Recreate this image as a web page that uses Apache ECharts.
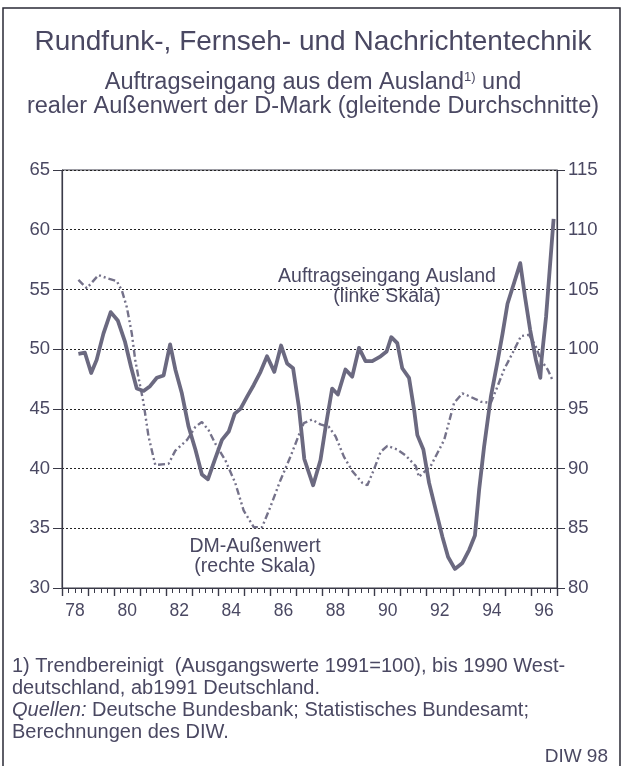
<!DOCTYPE html>
<html>
<head>
<meta charset="utf-8">
<title>Rundfunk-, Fernseh- und Nachrichtentechnik</title>
<script src="https://cdn.jsdelivr.net/npm/echarts@6/dist/echarts.min.js"></script>
<style>
  html, body { margin: 0; padding: 0; background: #fff; }
  #main { width: 626px; height: 766px; }
</style>
</head>
<body>
<div id="main"></div>
<script>
// Auftragseingang aus dem Ausland (linke Skala), Zeit in Jahren
var auftragJahr = [1978.63, 1978.88, 1979.12, 1979.33, 1979.59, 1979.87, 1980.14, 1980.42, 1980.65, 1980.87,
  1981.13, 1981.38, 1981.64, 1981.9, 1982.15, 1982.35, 1982.6, 1982.86, 1983.12, 1983.37,
  1983.6, 1983.86, 1984.14, 1984.4, 1984.63, 1984.85, 1985.1, 1985.36, 1985.62, 1985.87,
  1986.15, 1986.41, 1986.64, 1986.87, 1987.09, 1987.3, 1987.64, 1987.92, 1988.12, 1988.37,
  1988.59, 1988.88, 1989.14, 1989.4, 1989.65, 1989.91, 1990.23, 1990.46, 1990.64, 1990.87,
  1991.06, 1991.32, 1991.51, 1991.64, 1991.87, 1992.09, 1992.35, 1992.6, 1992.82, 1993.08,
  1993.37, 1993.63, 1993.85, 1994.01, 1994.2, 1994.46, 1994.72, 1994.91, 1995.1, 1995.36,
  1995.59, 1995.77, 1995.97, 1996.19, 1996.36, 1996.41, 1996.58, 1996.7, 1996.87];
var auftragWert = [49.6, 49.7, 48.0, 49.1, 51.3, 53.1, 52.4, 50.6, 48.5, 46.7,
  46.5, 46.9, 47.6, 47.8, 50.4, 48.3, 46.3, 43.5, 41.6, 39.5,
  39.1, 40.7, 42.4, 43.1, 44.6, 45.0, 46.0, 47.0, 48.1, 49.4,
  48.1, 50.3, 48.8, 48.4, 45.2, 40.8, 38.6, 40.7, 43.5, 46.7,
  46.2, 48.3, 47.7, 50.1, 49.0, 49.0, 49.4, 49.8, 51.0, 50.5,
  48.4, 47.6, 45.0, 42.8, 41.6, 38.8, 36.5, 34.3, 32.6, 31.6,
  32.1, 33.2, 34.4, 38.2, 41.8, 46.0, 49.0, 51.3, 53.8, 55.6,
  57.2, 54.4, 51.6, 49.1, 47.6, 49.2, 52.7, 56.1, 60.9];

// realer Außenwert der D-Mark (rechte Skala)
var dmJahr = [1978.63, 1978.95, 1979.4, 1979.78, 1980.1, 1980.3, 1980.49, 1980.68, 1980.81, 1980.93,
  1981.13, 1981.32, 1981.58, 1982.09, 1982.35, 1982.8, 1983.12, 1983.37, 1983.63, 1983.88,
  1984.27, 1984.65, 1984.97, 1985.36, 1985.68, 1986.0, 1986.38, 1986.77, 1987.09, 1987.28,
  1987.6, 1987.92, 1988.24, 1988.5, 1988.82, 1989.14, 1989.53, 1989.72, 1989.97, 1990.23,
  1990.49, 1990.87, 1991.19, 1991.58, 1991.7, 1992.15, 1992.67, 1993.05, 1993.37, 1993.69,
  1994.08, 1994.46, 1994.72, 1994.97, 1995.3, 1995.62, 1995.93, 1996.19, 1996.38, 1996.64, 1996.83];
var dmWert = [105.8, 105.1, 106.2, 105.9, 105.7, 104.9, 103.5, 101.3, 99.1, 97.7,
  95.5, 92.7, 90.3, 90.4, 91.5, 92.4, 93.5, 93.9, 93.2, 92.1,
  90.7, 88.8, 86.5, 85.1, 85.1, 86.8, 89.0, 91.0, 92.8, 93.8,
  94.1, 93.7, 93.5, 92.7, 91.0, 89.8, 88.8, 88.6, 89.9, 91.4,
  91.9, 91.6, 91.1, 90.2, 89.3, 90.2, 92.4, 95.5, 96.3, 96.0,
  95.6, 95.5, 96.9, 98.3, 99.7, 101.1, 101.2, 100.2, 99.1, 98.3, 97.4];

var jahrLabels = ['78', '80', '82', '84', '86', '88', '90', '92', '94', '96'];

var textFarbe = '#4a4862';
var linienFarbe = '#6b6980';
var schrift = 'Liberation Sans, Arial, sans-serif';

var auftragDaten = auftragJahr.map(function (t, i) { return [t, auftragWert[i]]; });
var dmDaten = dmJahr.map(function (t, i) { return [t, dmWert[i]]; });

function text(x, y, s, opts) {
    var style = { text: s, fontSize: 20, fill: textFarbe, verticalAlign: 'middle', fontFamily: schrift };
    for (var k in opts) style[k] = opts[k];
    return { type: 'text', x: x, y: y, style: style };
}

var myChart = echarts.init(document.getElementById('main'));

var option = {
    backgroundColor: '#fff',
    animation: false,
    textStyle: { fontFamily: schrift, color: textFarbe },
    title: {
        text: 'Rundfunk-, Fernseh- und Nachrichtentechnik',
        subtext: 'Auftragseingang aus dem Ausland{sup|1)} und\nrealer Außenwert der D-Mark (gleitende Durchschnitte)',
        left: 'center',
        top: 23,
        itemGap: 15,
        textStyle: { fontSize: 28, fontWeight: 'normal', color: textFarbe },
        subtextStyle: {
            fontSize: 23.5, color: textFarbe, lineHeight: 24, align: 'center',
            rich: { sup: { fontSize: 13, color: textFarbe, verticalAlign: 'top', lineHeight: 24, padding: [0, 0, 8, 0] } }
        }
    },
    grid: { left: 62, right: 69, top: 170, bottom: 178, containLabel: false, show: true, borderColor: '#3a3a48', borderWidth: 1 },
    xAxis: [
        {
            type: 'value', min: 1978, max: 1997, interval: 1, position: 'bottom',
            axisLine: { show: true, onZero: false, lineStyle: { color: '#3a3a48', width: 1.2 } },
            axisTick: { show: true, length: 8, lineStyle: { color: '#3a3a48', width: 1.4 } },
            minorTick: { show: true, splitNumber: 4, length: 5, lineStyle: { color: '#3a3a48', width: 1 } },
            axisLabel: { show: false },
            splitLine: { show: false }
        },
        {
            type: 'value', min: 1978, max: 1997, interval: 0.5, position: 'bottom',
            axisLine: { show: false }, axisTick: { show: false }, splitLine: { show: false },
            axisLabel: {
                show: true, margin: 14, fontSize: 17.5, color: textFarbe,
                formatter: function (v) {
                    var j = Math.floor(v);
                    if (Math.abs(v - j - 0.5) > 0.01 || j % 2 !== 0) return '';
                    return jahrLabels[(j - 1978) / 2] || '';
                }
            }
        }
    ],
    yAxis: [
        {
            type: 'value', min: 30, max: 65, interval: 5, position: 'left',
            axisLine: { show: true, lineStyle: { color: '#3a3a48', width: 1.2 } },
            axisTick: { show: true, length: 9, lineStyle: { color: '#3a3a48' } },
            axisLabel: { fontSize: 18.5, color: textFarbe, margin: 12 },
            splitLine: { show: true, lineStyle: { color: '#222', width: 1, type: [2, 2] } }
        },
        {
            type: 'value', min: 80, max: 115, interval: 5, position: 'right',
            axisLine: { show: true, lineStyle: { color: '#3a3a48', width: 1.2 } },
            axisTick: { show: true, length: 8, lineStyle: { color: '#3a3a48' } },
            axisLabel: { fontSize: 18.5, color: textFarbe, margin: 11 },
            splitLine: { show: false }
        }
    ],
    series: [
        {
            name: 'realer Außenwert der D-Mark',
            type: 'line', xAxisIndex: 0, yAxisIndex: 1,
            data: dmDaten, symbol: 'none', smooth: false,
            lineStyle: { color: '#75728a', width: 2.4, type: [7, 3, 2, 3, 2, 3] }
        },
        {
            name: 'Auftragseingang Ausland',
            type: 'line', xAxisIndex: 0, yAxisIndex: 0,
            data: auftragDaten, symbol: 'none', smooth: false,
            lineStyle: { color: linienFarbe, width: 3.8, join: 'round' }
        }
    ],
    graphic: [
        { type: 'rect', shape: { x: 3, y: 8, width: 617, height: 770 }, style: { fill: 'none', stroke: '#2a2a36', lineWidth: 1.5 } },
        text(387, 277, 'Auftragseingang Ausland', { fontSize: 19.5, align: 'center' }),
        text(387, 297, '(linke Skala)', { fontSize: 19.5, align: 'center' }),
        text(255, 547, 'DM-Außenwert', { fontSize: 19.5, align: 'center' }),
        text(255, 567, '(rechte Skala)', { fontSize: 19.5, align: 'center' }),
        text(12, 666, '1) Trendbereinigt  (Ausgangswerte 1991=100), bis 1990 West-'),
        text(12, 688, 'deutschland, ab1991 Deutschland.'),
        text(12, 710, '{i|Quellen:} Deutsche Bundesbank; Statistisches Bundesamt;', {
            rich: { i: { fontStyle: 'italic', fontSize: 20, fill: textFarbe, fontFamily: schrift } }
        }),
        text(12, 732, 'Berechnungen des DIW.'),
        text(608, 757, 'DIW 98', { fontSize: 19, align: 'right' })
    ]
};

myChart.setOption(option);
</script>
</body>
</html>
